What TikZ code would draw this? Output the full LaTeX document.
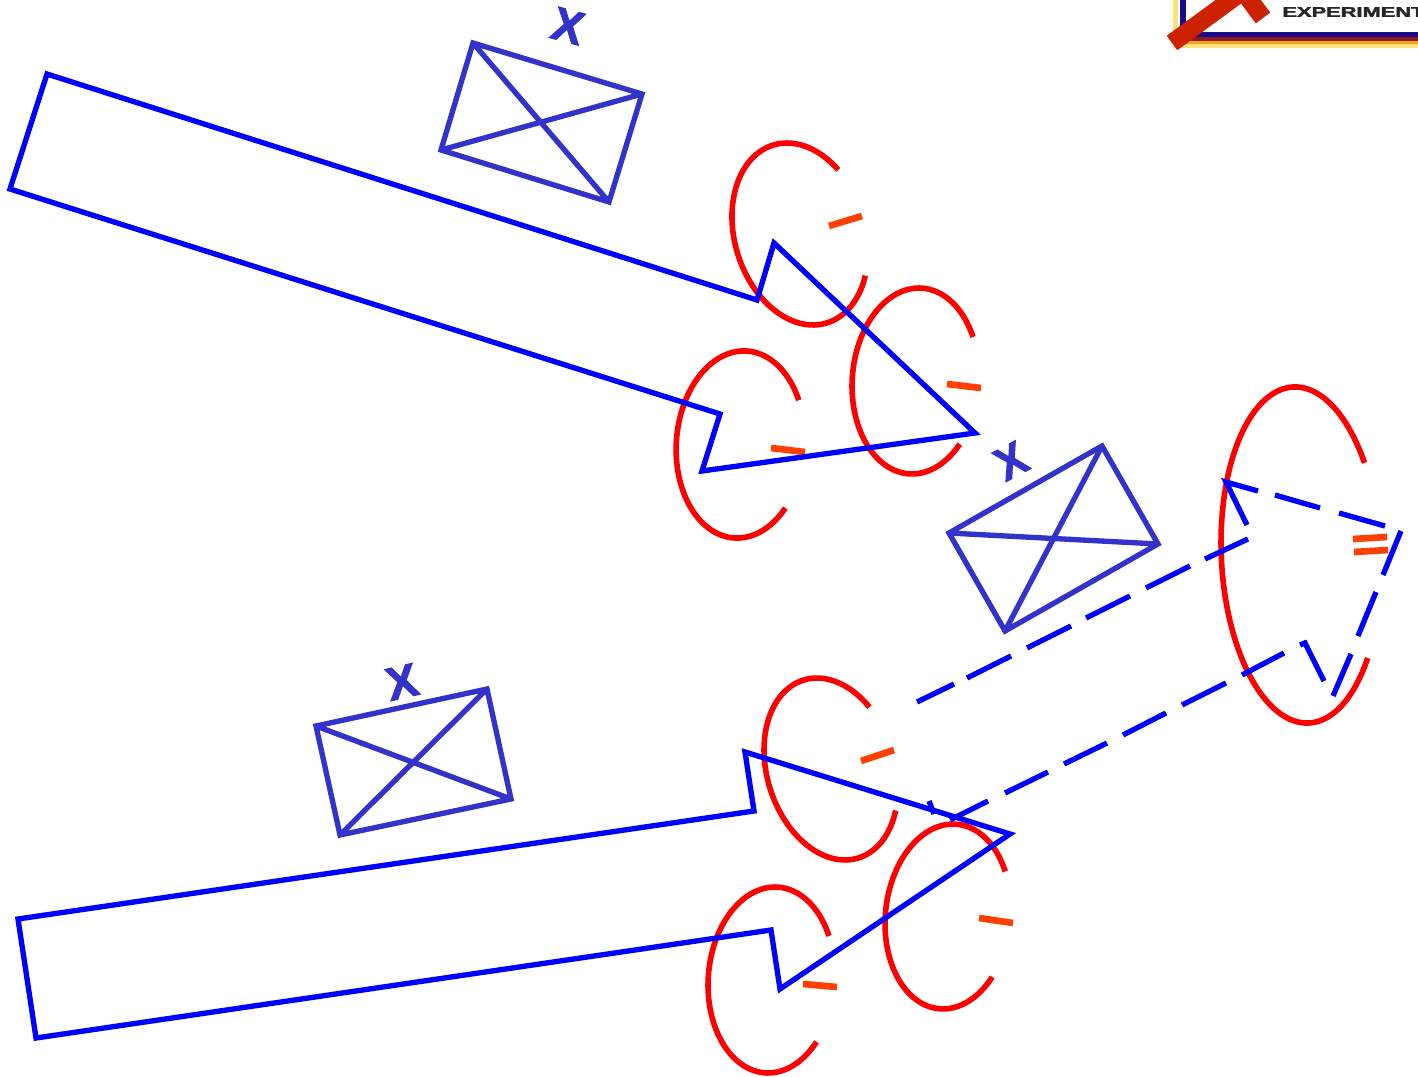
\documentclass[tikz,border=0pt]{standalone}
\usepackage{fontspec}
\setmainfont{Liberation Sans}
\newfontfamily\heavyfont[BoldFeatures={FakeBold=2}]{Liberation Sans}
\definecolor{boxblue}{HTML}{3333CC}
\definecolor{barorange}{HTML}{FF4000}
\definecolor{logored}{HTML}{CC2200}
\definecolor{logonavy}{HTML}{1A0A8C}
\definecolor{logodark}{HTML}{8C1A20}
\definecolor{logoamber}{HTML}{F0A020}
\definecolor{logoyellow}{HTML}{FFE27A}
\tikzset{
  x=0.75pt,y=-0.75pt,
  arrowline/.style={draw=blue,line width=4pt,line join=miter,miter limit=10},
  dashline/.style={draw=blue,line width=4pt},
  ring/.style={draw=red,line width=4.2pt},
  bar/.style={draw=barorange,line width=5pt},
  crate/.style={draw=boxblue,line width=4pt,line join=miter},
  xmark/.style={text=boxblue,font=\heavyfont\bfseries\fontsize{35pt}{35pt}\selectfont,inner sep=0pt}
}
\newcommand{\earc}[7]{% cx cy a b r t0 t1
  \draw[ring] plot[domain=#6:#7,samples=90,smooth] ({#1+#3*cos(\x)*cos(#5)-#4*sin(\x)*sin(#5)},{#2+#3*cos(\x)*sin(#5)+#4*sin(\x)*cos(#5)});}
\begin{document}
\begin{tikzpicture}
\useasboundingbox (0,0) rectangle (1418,1077);
\clip (0,0) rectangle (1418,1077);
% logo
\fill[logoyellow] (1173,-5) rectangle (1178,48);
\fill[logoyellow] (1173,44) rectangle (1418,48);
\fill[logoamber] (1178,41) rectangle (1418,44);
\fill[logodark] (1178,37) rectangle (1418,41);
\fill[logonavy] (1180,-5) rectangle (1186,37);
\fill[logonavy] (1180,32) rectangle (1418,37);
\draw[logored,line width=13.5pt,line join=miter] (1172,43) -- (1243,-9) -- (1263,18);
\node[anchor=west,inner sep=0pt,xscale=1.56,font=\heavyfont\bfseries\fontsize{10.5pt}{10.5pt}\selectfont,text=black!85] (logotext) at (1282,12) {EXPERIMENT};
% rings
\earc{800}{234}{65.4}{92.9}{-16.5}{39}{327}
\earc{915.5}{381}{63.3}{93.1}{4}{40}{329}
\earc{740.5}{444.5}{64.2}{93.7}{4}{40}{329}
\earc{1301}{555}{79.7}{168.2}{-2.6}{39}{328}
\earc{831}{769}{64}{93.1}{-17}{39}{329}
\earc{948}{916.5}{62.6}{92.7}{5.7}{37}{327}
\earc{771.5}{980}{63.3}{93.1}{4}{39}{329}
% bars
\draw[bar] (829,226) -- (862,216);
\draw[bar] (947,384) -- (981,388);
\draw[bar] (771,448) -- (805,452);
\draw[bar] (861,761) -- (894,750);
\draw[bar] (979,918) -- (1013,923);
\draw[bar] (803,984) -- (837,987);
\draw[bar] (1353,539) -- (1387,537);
\draw[bar] (1354,552) -- (1388,550);
% solid arrows
\draw[arrowline] (47,74) -- (757,300) -- (774,243) -- (975,433) -- (702,471) -- (720,414) -- (10,189) -- cycle;
\draw[arrowline] (18,919) -- (754,811) -- (745,752) -- (1010,834) -- (780,989) -- (771,930) -- (36,1038) -- cycle;
% dashed arrow
\draw[dashline]
  (917,702) -- (954,684) (967,678) -- (1011,656) (1027,648) -- (1071,626)
  (1086,618) -- (1130,596) (1146,588) -- (1190,566) (1205,559) -- (1248,539)
  (1247,525) -- (1226,482) -- (1258,491) (1275,495) -- (1320,508) (1339,513) -- (1385,526)
  (1401,531) -- (1383,575) (1376,592) -- (1358,636) (1351,654) -- (1333,696)
  (1324,681) -- (1305,643) -- (1300,645)
  (1284,653) -- (1242,675) (1226,683) -- (1182,705) (1166,713) -- (1123,735)
  (1107,743) -- (1064,764) (1048,772) -- (1005,793) (988,801) -- (950,820)
  (929,801) -- (934,814);
% crates
\draw[crate] (473,43) -- (642,94) -- (609,202) -- (441,150) -- cycle (473,43) -- (609,202) (642,94) -- (441,150);
\draw[crate] (1102,446) -- (1158,544) -- (1005,631) -- (949,533) -- cycle (1102,446) -- (1005,631) (1158,544) -- (949,533);
\draw[crate] (316,726) -- (487,689) -- (511,799) -- (340,835) -- cycle (316,726) -- (511,799) (487,689) -- (340,835);
% labels
\node[xmark,rotate=-15] (xa) at (568,26) {X};
\node[xmark,rotate=28,xscale=0.95] (xb) at (1011,461) {X};
\node[xmark,rotate=13] (xc) at (402,682) {X};
\end{tikzpicture}
\end{document}
